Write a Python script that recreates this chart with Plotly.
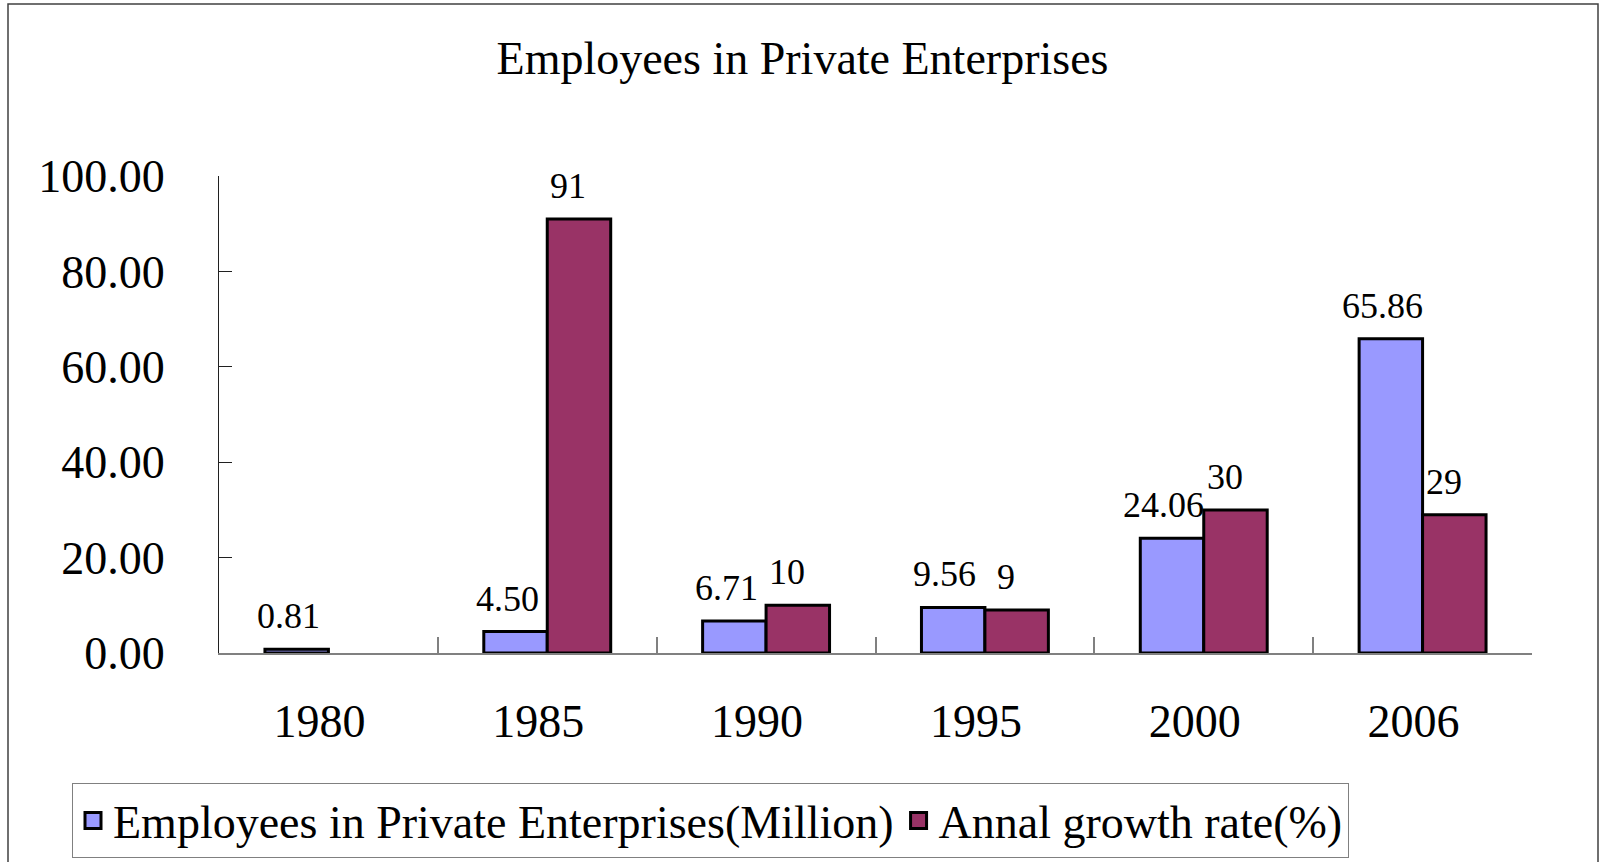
import plotly.graph_objects as go

# Chart data
years = ["1980", "1985", "1990", "1995", "2000", "2006"]
employees = [0.81, 4.50, 6.71, 9.56, 24.06, 65.86]
growth = [None, 91, 10, 9, 30, 29]
y_ticks = [0, 20, 40, 60, 80, 100]

name_emp = "Employees in Private Enterprises(Million)"
name_gr = "Annal growth rate(%)"
title_text = "Employees in Private Enterprises"

BLUE = "#9999FF"
PLUM = "#993366"
FONT = "Liberation Serif"

W, H = 1605, 862
L, R, T, B = 219, 73, 176, 209
plot_w, plot_h = W - L - R, H - T - B


def px_x(p):
    return (p - L) / plot_w


def px_y(p):
    return (H - B - p) / plot_h


fig = go.Figure()

fig.add_trace(go.Bar(
    x=years, y=employees, name=name_emp, legendgroup="emp", showlegend=False,
    marker=dict(color=BLUE, line=dict(color="black", width=3)),
))
fig.add_trace(go.Bar(
    x=years, y=growth, name=name_gr, legendgroup="gr", showlegend=False,
    marker=dict(color=PLUM, line=dict(color="black", width=3)),
))

# legend entries with larger square swatches (no visible points)
for nm, col, grp in [(name_emp, BLUE, "emp"), (name_gr, PLUM, "gr")]:
    fig.add_trace(go.Scatter(
        x=[years[0]], y=[None], mode="markers", name=nm, legendgroup=grp,
        marker=dict(symbol="square", size=22, color=col,
                    line=dict(color="black", width=3)),
        hoverinfo="skip",
    ))

# value labels above bars (category axis positions given by index)
annotations = []
for i, v in enumerate(employees):
    annotations.append(dict(
        x=i, y=v, xref="x", yref="y", text=f"{v:.2f}", showarrow=False,
        xanchor="center", yanchor="bottom", xshift=-40, yshift=11,
        font=dict(family=FONT, size=36, color="black"),
    ))
for i, v in enumerate(growth):
    if v is None:
        continue
    annotations.append(dict(
        x=i, y=v, xref="x", yref="y", text=f"{v:d}", showarrow=False,
        xanchor="center", yanchor="bottom", xshift=21, yshift=11,
        font=dict(family=FONT, size=36, color="black"),
    ))

fig.update_layout(
    width=W, height=H,
    margin=dict(l=L, r=R, t=T, b=B, autoexpand=False),
    paper_bgcolor="white", plot_bgcolor="white",
    font=dict(family=FONT, size=46, color="black"),
    title=dict(text=title_text, x=0.5, xanchor="center",
               y=1 - 58 / H, yanchor="middle", yref="container",
               font=dict(family=FONT, size=46, color="black")),
    barmode="group", bargap=0.42, bargroupgap=0,
    showlegend=True,
    legend=dict(
        orientation="h", x=px_x(72), xanchor="left", y=px_y(783), yanchor="top",
        bordercolor="#808080", borderwidth=1, bgcolor="white",
        font=dict(family=FONT, size=46, color="black"),
        itemsizing="trace", traceorder="normal",
    ),
    annotations=annotations,
    shapes=[dict(
        type="rect", xref="paper", yref="paper",
        x0=px_x(8), x1=px_x(1598), y0=px_y(880), y1=px_y(4),
        line=dict(color="#404040", width=1.5), layer="below",
    )],
)

fig.update_xaxes(
    type="category", categoryorder="array", categoryarray=years,
    range=[-0.5, len(years) - 0.5],
    showgrid=False, zeroline=False,
    showline=True, linecolor="#808080", linewidth=1.5,
    ticks="inside", ticklen=16, tickcolor="#808080", tickwidth=1.5,
    tickson="boundaries", ticklabelstandoff=27, ticklabelshift=-9,
    tickfont=dict(family=FONT, size=46, color="black"),
)
fig.update_yaxes(
    range=[0, 100], tickvals=y_ticks, tickformat=".2f",
    showgrid=False, zeroline=False,
    showline=True, linecolor="#202020", linewidth=1,
    ticks="inside", ticklen=13, tickcolor="#202020", tickwidth=1,
    ticklabelstandoff=44,
    tickfont=dict(family=FONT, size=46, color="black"),
)

fig.write_html("out.html")
